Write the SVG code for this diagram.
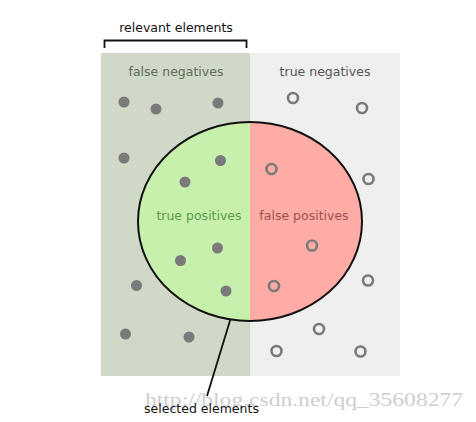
<svg xmlns="http://www.w3.org/2000/svg" width="476" height="422" viewBox="0 0 476 422">
<style>
.lbl{font-family:"DejaVu Sans",sans-serif;font-size:12.5px;text-anchor:middle}
.dot{fill:#7a7a7a}
.ring{fill:none;stroke:#7a7a7a;stroke-width:2.6}
</style>
<defs>
<clipPath id="cl"><rect x="0" y="0" width="250" height="422"/></clipPath>
<clipPath id="cr"><rect x="250" y="0" width="226" height="422"/></clipPath>
</defs>
<rect width="476" height="422" fill="#ffffff"/>
<g id="relevant-region">
<rect x="101" y="53" width="149" height="323" fill="#d0d9c8"/>
<text class="lbl" x="176" y="76" fill="#5f6b57">false negatives</text>
</g>
<g id="negative-region">
<rect x="250" y="53" width="150" height="323" fill="#efefef"/>
<text class="lbl" x="325" y="76" fill="#555555">true negatives</text>
</g>
<g id="selected-ellipse">
<ellipse cx="250" cy="221.5" rx="112" ry="99.5" fill="#c6f0ab" clip-path="url(#cl)"/>
<ellipse cx="250" cy="221.5" rx="112" ry="99.5" fill="#ffaba6" clip-path="url(#cr)"/>
<ellipse cx="250" cy="221.5" rx="112" ry="99.5" fill="none" stroke="#111" stroke-width="2"/>
<text class="lbl" x="199" y="220" fill="#5e9a4c">true positives</text>
<text class="lbl" x="304" y="220" fill="#a24d4d">false positives</text>
</g>
<g id="points">
<circle class="dot" cx="124" cy="102" r="5.5"/>
<circle class="dot" cx="156" cy="109" r="5.5"/>
<circle class="dot" cx="218" cy="103" r="5.5"/>
<circle class="dot" cx="124" cy="158" r="5.5"/>
<circle class="dot" cx="220.5" cy="160.5" r="5.5"/>
<circle class="dot" cx="185" cy="182" r="5.5"/>
<circle class="dot" cx="217.5" cy="248" r="5.5"/>
<circle class="dot" cx="180.5" cy="260.5" r="5.5"/>
<circle class="dot" cx="136.5" cy="285.5" r="5.5"/>
<circle class="dot" cx="226" cy="291" r="5.5"/>
<circle class="dot" cx="125.5" cy="334" r="5.5"/>
<circle class="dot" cx="189" cy="337" r="5.5"/>
<circle class="ring" cx="293" cy="98" r="5"/>
<circle class="ring" cx="362" cy="108" r="5"/>
<circle class="ring" cx="271.5" cy="169" r="5"/>
<circle class="ring" cx="368.5" cy="179" r="5"/>
<circle class="ring" cx="312" cy="245.5" r="5"/>
<circle class="ring" cx="274" cy="286" r="5"/>
<circle class="ring" cx="368" cy="280.5" r="5"/>
<circle class="ring" cx="319" cy="329" r="5"/>
<circle class="ring" cx="276.5" cy="351" r="5"/>
<circle class="ring" cx="360.5" cy="351.5" r="5"/>
</g>
<g id="connectors" fill="none" stroke="#111" stroke-width="1.8">
<path d="M104.5 48 V40.5 H246.5 V48"/>
<path d="M230.5 319 L207 396"/>
</g>
<g id="relevant-label">
<text class="lbl" x="176" y="32" fill="#111">relevant elements</text>
</g>
<text x="304" y="406" font-family="'Liberation Serif',serif" font-size="19" fill="#c4c4c4" fill-opacity="0.85" text-anchor="middle" textLength="318" lengthAdjust="spacingAndGlyphs">http://blog.csdn.net/qq_35608277</text>
<g id="selected-label">
<text class="lbl" x="201.5" y="413" fill="#111">selected elements</text>
</g>
</svg>
